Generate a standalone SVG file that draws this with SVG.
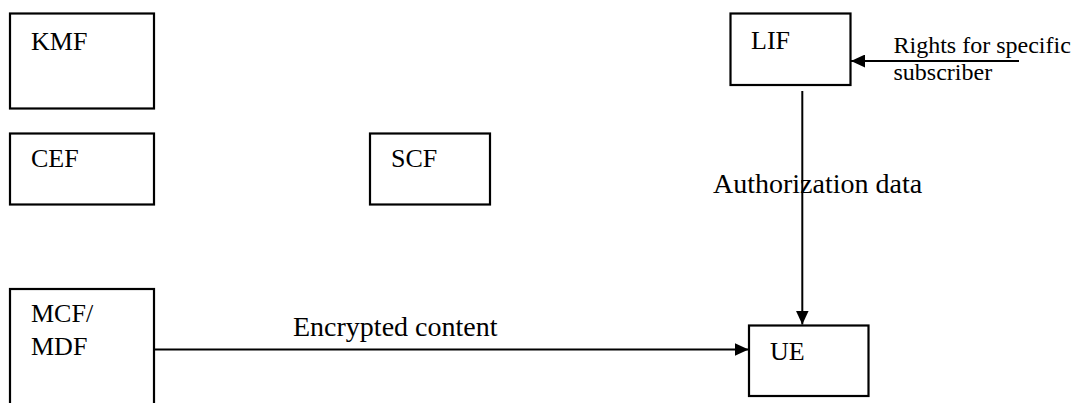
<svg xmlns="http://www.w3.org/2000/svg" width="1072" height="403" viewBox="0 0 1072 403">
<style>
  .box { fill: #ffffff; stroke: #000000; stroke-width: 2.2; }
  text { font-family: 'Liberation Serif', 'DejaVu Serif', serif; fill: #000000; }
  .lbl { font-size: 26px; }
  .elbl { font-size: 28px; }
  .slbl { font-size: 24px; }
  .conn { fill: none; stroke: #000000; stroke-width: 2; }
</style>
<defs>
  <marker id="arrow" markerUnits="userSpaceOnUse" markerWidth="14" markerHeight="13" refX="14" refY="6.5" orient="auto">
    <path d="M0,0 L14,6.5 L0,13 Z" fill="#000000"/>
  </marker>
</defs>
<rect width="1072" height="403" fill="#ffffff"/>
<g id="KMF">
  <rect class="box" x="10" y="13.5" width="144" height="95"/>
  <text class="lbl" x="31" y="50">KMF</text>
</g>
<g id="CEF">
  <rect class="box" x="10" y="133.5" width="144" height="71"/>
  <text class="lbl" x="31" y="167">CEF</text>
</g>
<g id="SCF">
  <rect class="box" x="370" y="133.5" width="120" height="71"/>
  <text class="lbl" x="391" y="167">SCF</text>
</g>
<g id="LIF">
  <rect class="box" x="730.5" y="13.5" width="120" height="71.5"/>
  <text class="lbl" x="751" y="48.5">LIF</text>
</g>
<g id="UE">
  <rect class="box" x="749" y="325.5" width="119.5" height="70.5"/>
  <text class="lbl" x="770" y="360">UE</text>
</g>
<g id="MCF_MDF">
  <rect class="box" x="10" y="289" width="144" height="200"/>
  <text class="lbl" x="31" y="322">MCF/</text>
  <text class="lbl" x="31" y="355">MDF</text>
</g>
<g id="connectors">
  <line class="conn" x1="1019" y1="61" x2="851" y2="61" marker-end="url(#arrow)"/>
  <text class="slbl" x="893.5" y="52.5">Rights for specific</text>
  <text class="slbl" x="893.5" y="80">subscriber</text>
  <line class="conn" x1="802.3" y1="91" x2="802.3" y2="324.5" marker-end="url(#arrow)"/>
  <text class="elbl" x="713" y="193">Authorization data</text>
  <line class="conn" x1="155" y1="349.5" x2="748.5" y2="349.5" marker-end="url(#arrow)"/>
  <text class="elbl" x="293" y="336">Encrypted content</text>
</g>
</svg>
